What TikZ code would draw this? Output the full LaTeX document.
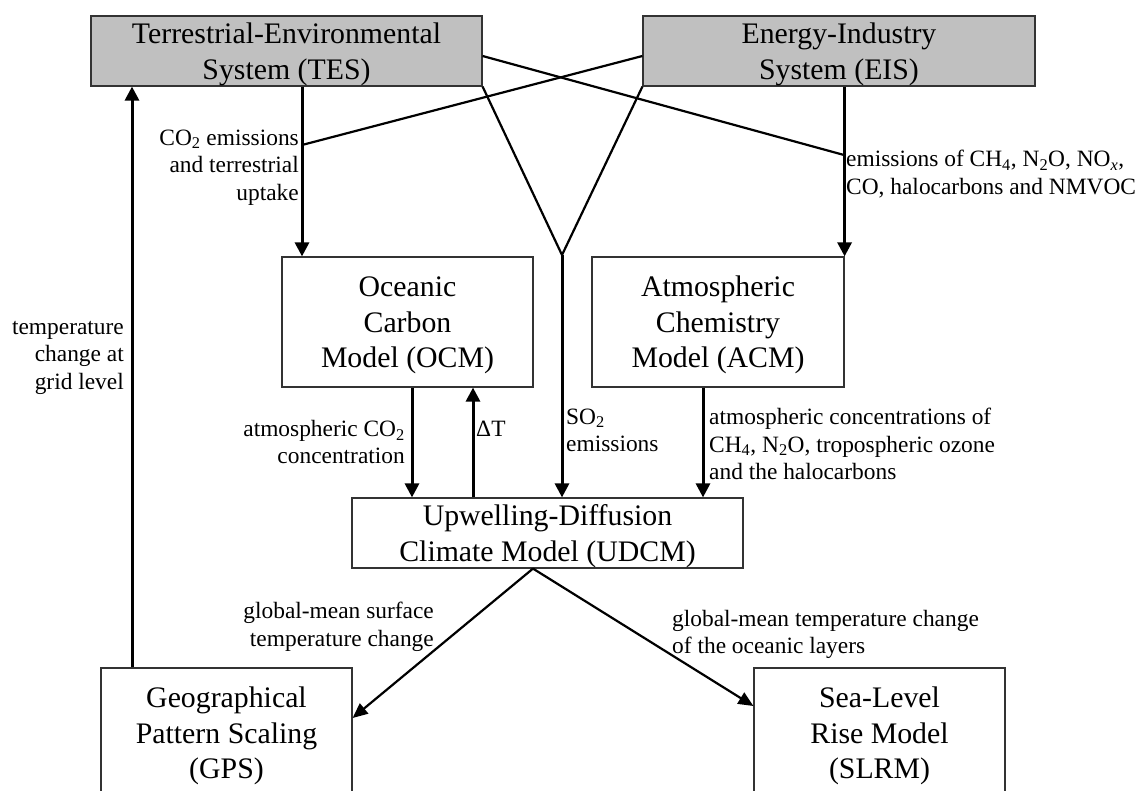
\documentclass[tikz,border=0pt]{standalone}
\usepackage{fontspec}
\setmainfont{Liberation Serif}
\usetikzlibrary{arrows.meta,calc}
\definecolor{boxgrey}{HTML}{C0C0C0}
\newcommand\mybs{\rule{0pt}{27pt}}
\newcommand\myls{\rule{0pt}{16pt}}
\begin{document}
\begin{tikzpicture}[x=1pt,y=-1pt,
  box/.style={draw=black!80, line width=1.2pt, inner sep=0pt, align=center,
    font=\fontsize{29.8}{35.5}\selectfont},
  greybox/.style={box, fill=boxgrey},
  lbl/.style={inner sep=0pt, font=\fontsize{23.4}{27.5}\selectfont},
  arr/.style={line width=3pt, -{Triangle[length=14pt,width=14pt]}},
  tarr/.style={line width=2.2pt, -{Triangle[length=15pt,width=13pt]}},
  ln/.style={line width=2.2pt}]
\useasboundingbox (0,0) rectangle (1136,791);

% boxes
\node[greybox, minimum width=391pt, minimum height=70pt] (TES) at (286.5,51) {\mybs Terrestrial-Environmental\\System (TES)};
\node[greybox, minimum width=392pt, minimum height=70pt] (EIS) at (839,51) {\mybs Energy-Industry\\System (EIS)};
\node[box, minimum width=251pt, minimum height=130pt] (OCM) at (407.5,322) {\mybs Oceanic\\Carbon\\Model (OCM)};
\node[box, minimum width=252pt, minimum height=130pt] (ACM) at (718,322) {\mybs Atmospheric\\Chemistry\\Model (ACM)};
\node[box, minimum width=391pt, minimum height=70pt] (UDCM) at (547.5,533) {\mybs Upwelling-Diffusion\\Climate Model (UDCM)};
\node[box, minimum width=251pt, minimum height=130pt] (GPS) at (226.5,733) {\mybs Geographical\\Pattern Scaling\\(GPS)};
\node[box, minimum width=251pt, minimum height=130pt] (SLRM) at (879.5,733) {\mybs Sea-Level\\Rise Model\\(SLRM)};

% helper coordinates
\coordinate (xa) at (302,0);
\coordinate (xb) at (412,0);
\coordinate (xc) at (473,0);
\coordinate (xe) at (703,0);
\coordinate (xf) at (132,0);
\coordinate (xg) at (533,0);
\coordinate (j1) at (302,145);
\coordinate (j2) at (844,155);
\coordinate (m) at (562,255);

% connectors
\draw[arr] (TES.south -| xa) -- (OCM.north -| xa);
\draw[arr] (EIS.south -| ACM.north east) -- (ACM.north east);
\draw[ln] ($(EIS.west)+(0,5)$) -- (j1);
\draw[ln] ($(TES.east)+(0,5)$) -- (j2);
\draw[ln] (TES.south east) -- (m) -- (EIS.south west);
\draw[arr] (m) -- (UDCM.north -| m);
\draw[arr] (OCM.south -| xb) -- (UDCM.north -| xb);
\draw[arr] (UDCM.north -| xc) -- (OCM.south -| xc);
\draw[arr] (ACM.south -| xe) -- (UDCM.north -| xe);
\draw[tarr] (UDCM.south -| xg) -- ($(GPS.east)+(0,-15)$);
\draw[tarr] (UDCM.south -| xg) -- ($(SLRM.west)+(0,-27)$);
\draw[arr] (GPS.north -| xf) -- (TES.south -| xf);

% labels
\node[lbl, anchor=north east, align=right] (l1) at (299,129) {\myls CO\textsubscript{2} emissions\\and terrestrial\\uptake};
\node[lbl, anchor=north east, align=right] (l2) at (124,318) {\myls temperature\\change at\\grid level};
\node[lbl, anchor=north west, align=left] (l3) at (846,150) {\myls emissions of CH\textsubscript{4}, N\textsubscript{2}O, NO\textsubscript{\textit{x}},\\CO, halocarbons and NMVOC};
\node[lbl, anchor=north east, align=right] (l4) at (405,420) {\myls atmospheric CO\textsubscript{2}\\concentration};
\node[lbl, anchor=north west] (l5) at (476,420) {\myls ΔT};
\node[lbl, anchor=north west, align=left] (l6) at (566,408) {\myls SO\textsubscript{2}\\emissions};
\node[lbl, anchor=north west, align=left] (l7) at (709,408) {\myls atmospheric concentrations of\\CH\textsubscript{4}, N\textsubscript{2}O, tropospheric ozone\\and the halocarbons};
\node[lbl, anchor=north east, align=right] (l8) at (434,602) {\myls global-mean surface\\temperature change};
\node[lbl, anchor=north west, align=left] (l9) at (672,610) {\myls global-mean temperature change\\of the oceanic layers};
\end{tikzpicture}
\end{document}
